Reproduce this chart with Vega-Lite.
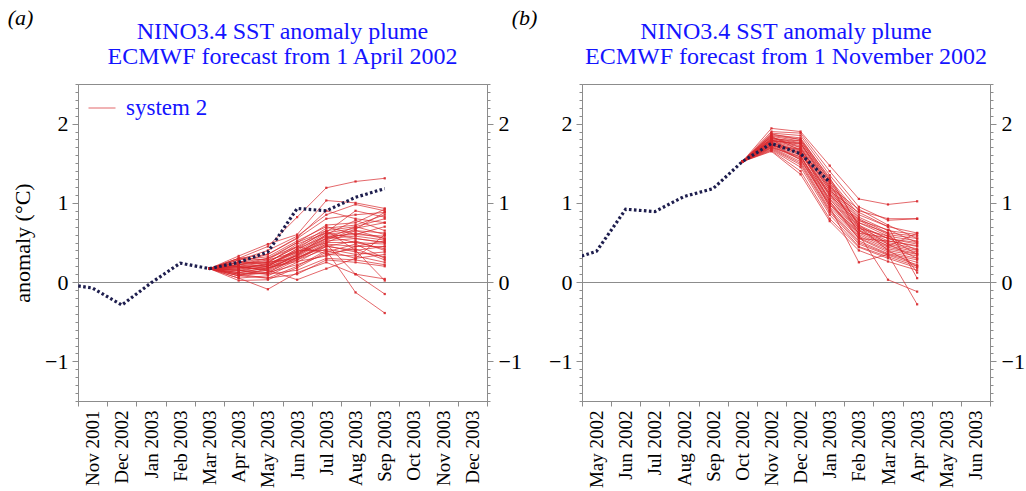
{
"$schema": "https://vega.github.io/schema/vega-lite/v6.json",
"padding": {"left": 6, "top": 5, "right": 5, "bottom": 0},
"bounds": "flush",
"spacing": 95,
"config": {
  "font": "Liberation Serif",
  "view": {"stroke": "#8c8c8c", "strokeWidth": 1},
  "axis": {"domainColor": "#8c8c8c", "tickColor": "#8c8c8c", "labelFont": "Liberation Serif", "titleFont": "Liberation Serif", "labelColor": "#000000", "titleColor": "#000000", "titleFontWeight": "normal", "labelOverlap": false, "labelBound": false, "labelFlush": false},
  "legend": {"labelFont": "Liberation Serif"}
},
"datasets": {
"obsA": [{"t":-1,"v":-0.02},{"t":0,"v":-0.075},{"t":1,"v":-0.29},{"t":2,"v":-0.01},{"t":3,"v":0.24},{"t":4,"v":0.17},{"t":5,"v":0.25},{"t":6,"v":0.38},{"t":7,"v":0.93},{"t":8,"v":0.9},{"t":9,"v":1.07},{"t":10,"v":1.18}],
"obsB": [{"t":-1,"v":0.27},{"t":0,"v":0.39},{"t":1,"v":0.92},{"t":2,"v":0.89},{"t":3,"v":1.08},{"t":4,"v":1.18},{"t":5,"v":1.52},{"t":6,"v":1.75},{"t":7,"v":1.62},{"t":8,"v":1.26}],
"ensA": [
{"k":1,"t":4,"v":0.17},{"k":1,"t":5,"v":0.30},{"k":1,"t":6,"v":0.45},{"k":1,"t":7,"v":0.82},{"k":1,"t":8,"v":1.19},{"k":1,"t":9,"v":1.27},{"k":1,"t":10,"v":1.31},
{"k":2,"t":4,"v":0.17},{"k":2,"t":5,"v":0.33},{"k":2,"t":6,"v":0.48},{"k":2,"t":7,"v":0.60},{"k":2,"t":8,"v":1.03},{"k":2,"t":9,"v":1.00},{"k":2,"t":10,"v":0.93},
{"k":3,"t":4,"v":0.17},{"k":3,"t":5,"v":0.28},{"k":3,"t":6,"v":0.40},{"k":3,"t":7,"v":0.58},{"k":3,"t":8,"v":0.85},{"k":3,"t":9,"v":0.98},{"k":3,"t":10,"v":0.90},
{"k":4,"t":4,"v":0.17},{"k":4,"t":5,"v":0.25},{"k":4,"t":6,"v":0.35},{"k":4,"t":7,"v":0.55},{"k":4,"t":8,"v":0.80},{"k":4,"t":9,"v":0.85},{"k":4,"t":10,"v":0.88},
{"k":5,"t":4,"v":0.17},{"k":5,"t":5,"v":0.22},{"k":5,"t":6,"v":0.30},{"k":5,"t":7,"v":0.50},{"k":5,"t":8,"v":0.72},{"k":5,"t":9,"v":0.75},{"k":5,"t":10,"v":0.92},
{"k":6,"t":4,"v":0.17},{"k":6,"t":5,"v":0.20},{"k":6,"t":6,"v":0.25},{"k":6,"t":7,"v":0.45},{"k":6,"t":8,"v":0.68},{"k":6,"t":9,"v":0.72},{"k":6,"t":10,"v":0.85},
{"k":7,"t":4,"v":0.17},{"k":7,"t":5,"v":0.18},{"k":7,"t":6,"v":0.22},{"k":7,"t":7,"v":0.42},{"k":7,"t":8,"v":0.65},{"k":7,"t":9,"v":0.70},{"k":7,"t":10,"v":0.80},
{"k":8,"t":4,"v":0.17},{"k":8,"t":5,"v":0.15},{"k":8,"t":6,"v":0.20},{"k":8,"t":7,"v":0.40},{"k":8,"t":8,"v":0.62},{"k":8,"t":9,"v":0.68},{"k":8,"t":10,"v":0.75},
{"k":9,"t":4,"v":0.17},{"k":9,"t":5,"v":0.30},{"k":9,"t":6,"v":0.28},{"k":9,"t":7,"v":0.38},{"k":9,"t":8,"v":0.60},{"k":9,"t":9,"v":0.65},{"k":9,"t":10,"v":0.62},
{"k":10,"t":4,"v":0.17},{"k":10,"t":5,"v":0.12},{"k":10,"t":6,"v":0.18},{"k":10,"t":7,"v":0.36},{"k":10,"t":8,"v":0.58},{"k":10,"t":9,"v":0.60},{"k":10,"t":10,"v":0.58},
{"k":11,"t":4,"v":0.17},{"k":11,"t":5,"v":0.10},{"k":11,"t":6,"v":0.15},{"k":11,"t":7,"v":0.35},{"k":11,"t":8,"v":0.56},{"k":11,"t":9,"v":0.62},{"k":11,"t":10,"v":0.55},
{"k":12,"t":4,"v":0.17},{"k":12,"t":5,"v":0.25},{"k":12,"t":6,"v":0.22},{"k":12,"t":7,"v":0.33},{"k":12,"t":8,"v":0.55},{"k":12,"t":9,"v":0.58},{"k":12,"t":10,"v":0.53},
{"k":13,"t":4,"v":0.17},{"k":13,"t":5,"v":0.08},{"k":13,"t":6,"v":0.12},{"k":13,"t":7,"v":0.32},{"k":13,"t":8,"v":0.52},{"k":13,"t":9,"v":0.55},{"k":13,"t":10,"v":0.50},
{"k":14,"t":4,"v":0.17},{"k":14,"t":5,"v":0.20},{"k":14,"t":6,"v":0.20},{"k":14,"t":7,"v":0.30},{"k":14,"t":8,"v":0.50},{"k":14,"t":9,"v":0.50},{"k":14,"t":10,"v":0.48},
{"k":15,"t":4,"v":0.17},{"k":15,"t":5,"v":0.15},{"k":15,"t":6,"v":0.10},{"k":15,"t":7,"v":0.28},{"k":15,"t":8,"v":0.48},{"k":15,"t":9,"v":0.45},{"k":15,"t":10,"v":0.52},
{"k":16,"t":4,"v":0.17},{"k":16,"t":5,"v":0.05},{"k":16,"t":6,"v":0.08},{"k":16,"t":7,"v":0.25},{"k":16,"t":8,"v":0.45},{"k":16,"t":9,"v":0.40},{"k":16,"t":10,"v":0.45},
{"k":17,"t":4,"v":0.17},{"k":17,"t":5,"v":0.22},{"k":17,"t":6,"v":0.25},{"k":17,"t":7,"v":0.30},{"k":17,"t":8,"v":0.45},{"k":17,"t":9,"v":0.52},{"k":17,"t":10,"v":0.40},
{"k":18,"t":4,"v":0.17},{"k":18,"t":5,"v":0.18},{"k":18,"t":6,"v":0.18},{"k":18,"t":7,"v":0.28},{"k":18,"t":8,"v":0.42},{"k":18,"t":9,"v":0.35},{"k":18,"t":10,"v":0.38},
{"k":19,"t":4,"v":0.17},{"k":19,"t":5,"v":0.10},{"k":19,"t":6,"v":0.05},{"k":19,"t":7,"v":0.20},{"k":19,"t":8,"v":0.40},{"k":19,"t":9,"v":0.30},{"k":19,"t":10,"v":0.35},
{"k":20,"t":4,"v":0.17},{"k":20,"t":5,"v":0.02},{"k":20,"t":6,"v":0.03},{"k":20,"t":7,"v":0.18},{"k":20,"t":8,"v":0.38},{"k":20,"t":9,"v":0.48},{"k":20,"t":10,"v":0.30},
{"k":21,"t":4,"v":0.17},{"k":21,"t":5,"v":0.25},{"k":21,"t":6,"v":0.30},{"k":21,"t":7,"v":0.45},{"k":21,"t":8,"v":0.36},{"k":21,"t":9,"v":0.42},{"k":21,"t":10,"v":0.28},
{"k":22,"t":4,"v":0.17},{"k":22,"t":5,"v":0.15},{"k":22,"t":6,"v":0.12},{"k":22,"t":7,"v":0.22},{"k":22,"t":8,"v":0.35},{"k":22,"t":9,"v":0.33},{"k":22,"t":10,"v":0.25},
{"k":23,"t":4,"v":0.17},{"k":23,"t":5,"v":0.12},{"k":23,"t":6,"v":0.10},{"k":23,"t":7,"v":0.15},{"k":23,"t":8,"v":0.30},{"k":23,"t":9,"v":0.28},{"k":23,"t":10,"v":0.22},
{"k":24,"t":4,"v":0.17},{"k":24,"t":5,"v":0.08},{"k":24,"t":6,"v":0.05},{"k":24,"t":7,"v":0.10},{"k":24,"t":8,"v":0.28},{"k":24,"t":9,"v":0.25},{"k":24,"t":10,"v":0.20},
{"k":25,"t":4,"v":0.17},{"k":25,"t":5,"v":0.20},{"k":25,"t":6,"v":0.15},{"k":25,"t":7,"v":0.03},{"k":25,"t":8,"v":0.17},{"k":25,"t":9,"v":0.30},{"k":25,"t":10,"v":0.60},
{"k":26,"t":4,"v":0.17},{"k":26,"t":5,"v":0.05},{"k":26,"t":6,"v":-0.09},{"k":26,"t":7,"v":0.12},{"k":26,"t":8,"v":0.25},{"k":26,"t":9,"v":0.10},{"k":26,"t":10,"v":0.04},
{"k":27,"t":4,"v":0.17},{"k":27,"t":5,"v":0.18},{"k":27,"t":6,"v":0.22},{"k":27,"t":7,"v":0.40},{"k":27,"t":8,"v":0.40},{"k":27,"t":9,"v":-0.13},{"k":27,"t":10,"v":-0.39},
{"k":28,"t":4,"v":0.17},{"k":28,"t":5,"v":0.10},{"k":28,"t":6,"v":0.12},{"k":28,"t":7,"v":0.30},{"k":28,"t":8,"v":0.48},{"k":28,"t":9,"v":0.10},{"k":28,"t":10,"v":-0.15},
{"k":29,"t":4,"v":0.17},{"k":29,"t":5,"v":0.22},{"k":29,"t":6,"v":0.28},{"k":29,"t":7,"v":0.50},{"k":29,"t":8,"v":0.65},{"k":29,"t":9,"v":0.40},{"k":29,"t":10,"v":0.02},
{"k":30,"t":4,"v":0.17},{"k":30,"t":5,"v":0.28},{"k":30,"t":6,"v":0.32},{"k":30,"t":7,"v":0.52},{"k":30,"t":8,"v":0.70},{"k":30,"t":9,"v":0.60},{"k":30,"t":10,"v":0.70},
{"k":31,"t":4,"v":0.17},{"k":31,"t":5,"v":0.30},{"k":31,"t":6,"v":0.35},{"k":31,"t":7,"v":0.56},{"k":31,"t":8,"v":0.90},{"k":31,"t":9,"v":0.80},{"k":31,"t":10,"v":0.75},
{"k":32,"t":4,"v":0.17},{"k":32,"t":5,"v":0.14},{"k":32,"t":6,"v":0.20},{"k":32,"t":7,"v":0.38},{"k":32,"t":8,"v":0.55},{"k":32,"t":9,"v":0.70},{"k":32,"t":10,"v":0.60},
{"k":33,"t":4,"v":0.17},{"k":33,"t":5,"v":0.18},{"k":33,"t":6,"v":0.16},{"k":33,"t":7,"v":0.34},{"k":33,"t":8,"v":0.60},{"k":33,"t":9,"v":0.78},{"k":33,"t":10,"v":0.65},
{"k":34,"t":4,"v":0.17},{"k":34,"t":5,"v":0.24},{"k":34,"t":6,"v":0.26},{"k":34,"t":7,"v":0.44},{"k":34,"t":8,"v":0.63},{"k":34,"t":9,"v":0.90},{"k":34,"t":10,"v":0.82},
{"k":35,"t":4,"v":0.17},{"k":35,"t":5,"v":0.16},{"k":35,"t":6,"v":0.24},{"k":35,"t":7,"v":0.37},{"k":35,"t":8,"v":0.50},{"k":35,"t":9,"v":0.65},{"k":35,"t":10,"v":0.55},
{"k":36,"t":4,"v":0.17},{"k":36,"t":5,"v":0.12},{"k":36,"t":6,"v":0.18},{"k":36,"t":7,"v":0.26},{"k":36,"t":8,"v":0.33},{"k":36,"t":9,"v":0.45},{"k":36,"t":10,"v":0.45},
{"k":37,"t":4,"v":0.17},{"k":37,"t":5,"v":0.26},{"k":37,"t":6,"v":0.24},{"k":37,"t":7,"v":0.48},{"k":37,"t":8,"v":0.62},{"k":37,"t":9,"v":0.55},{"k":37,"t":10,"v":0.50},
{"k":38,"t":4,"v":0.17},{"k":38,"t":5,"v":0.20},{"k":38,"t":6,"v":0.14},{"k":38,"t":7,"v":0.31},{"k":38,"t":8,"v":0.46},{"k":38,"t":9,"v":0.38},{"k":38,"t":10,"v":0.32},
{"k":39,"t":4,"v":0.17},{"k":39,"t":5,"v":0.08},{"k":39,"t":6,"v":0.17},{"k":39,"t":7,"v":0.34},{"k":39,"t":8,"v":0.53},{"k":39,"t":9,"v":0.67},{"k":39,"t":10,"v":0.88},
{"k":40,"t":4,"v":0.17},{"k":40,"t":5,"v":0.22},{"k":40,"t":6,"v":0.20},{"k":40,"t":7,"v":0.42},{"k":40,"t":8,"v":0.58},{"k":40,"t":9,"v":0.50},{"k":40,"t":10,"v":0.42}
],
"ensB": [
{"k":1,"t":5,"v":1.52},{"k":1,"t":6,"v":1.94},{"k":1,"t":7,"v":1.90},{"k":1,"t":8,"v":1.47},{"k":1,"t":9,"v":1.05},{"k":1,"t":10,"v":0.98},{"k":1,"t":11,"v":1.02},
{"k":2,"t":5,"v":1.52},{"k":2,"t":6,"v":1.90},{"k":2,"t":7,"v":1.88},{"k":2,"t":8,"v":1.40},{"k":2,"t":9,"v":0.95},{"k":2,"t":10,"v":0.78},{"k":2,"t":11,"v":0.80},
{"k":3,"t":5,"v":1.52},{"k":3,"t":6,"v":1.88},{"k":3,"t":7,"v":1.85},{"k":3,"t":8,"v":1.35},{"k":3,"t":9,"v":0.90},{"k":3,"t":10,"v":0.80},{"k":3,"t":11,"v":0.80},
{"k":4,"t":5,"v":1.52},{"k":4,"t":6,"v":1.86},{"k":4,"t":7,"v":1.82},{"k":4,"t":8,"v":1.30},{"k":4,"t":9,"v":0.85},{"k":4,"t":10,"v":0.70},{"k":4,"t":11,"v":0.62},
{"k":5,"t":5,"v":1.52},{"k":5,"t":6,"v":1.85},{"k":5,"t":7,"v":1.80},{"k":5,"t":8,"v":1.28},{"k":5,"t":9,"v":0.82},{"k":5,"t":10,"v":0.65},{"k":5,"t":11,"v":0.60},
{"k":6,"t":5,"v":1.52},{"k":6,"t":6,"v":1.84},{"k":6,"t":7,"v":1.78},{"k":6,"t":8,"v":1.25},{"k":6,"t":9,"v":0.80},{"k":6,"t":10,"v":0.62},{"k":6,"t":11,"v":0.58},
{"k":7,"t":5,"v":1.52},{"k":7,"t":6,"v":1.82},{"k":7,"t":7,"v":1.76},{"k":7,"t":8,"v":1.22},{"k":7,"t":9,"v":0.78},{"k":7,"t":10,"v":0.60},{"k":7,"t":11,"v":0.55},
{"k":8,"t":5,"v":1.52},{"k":8,"t":6,"v":1.81},{"k":8,"t":7,"v":1.75},{"k":8,"t":8,"v":1.20},{"k":8,"t":9,"v":0.75},{"k":8,"t":10,"v":0.58},{"k":8,"t":11,"v":0.52},
{"k":9,"t":5,"v":1.52},{"k":9,"t":6,"v":1.80},{"k":9,"t":7,"v":1.72},{"k":9,"t":8,"v":1.18},{"k":9,"t":9,"v":0.72},{"k":9,"t":10,"v":0.55},{"k":9,"t":11,"v":0.50},
{"k":10,"t":5,"v":1.52},{"k":10,"t":6,"v":1.79},{"k":10,"t":7,"v":1.70},{"k":10,"t":8,"v":1.15},{"k":10,"t":9,"v":0.70},{"k":10,"t":10,"v":0.55},{"k":10,"t":11,"v":0.48},
{"k":11,"t":5,"v":1.52},{"k":11,"t":6,"v":1.78},{"k":11,"t":7,"v":1.68},{"k":11,"t":8,"v":1.12},{"k":11,"t":9,"v":0.68},{"k":11,"t":10,"v":0.52},{"k":11,"t":11,"v":0.45},
{"k":12,"t":5,"v":1.52},{"k":12,"t":6,"v":1.77},{"k":12,"t":7,"v":1.66},{"k":12,"t":8,"v":1.10},{"k":12,"t":9,"v":0.66},{"k":12,"t":10,"v":0.50},{"k":12,"t":11,"v":0.42},
{"k":13,"t":5,"v":1.52},{"k":13,"t":6,"v":1.76},{"k":13,"t":7,"v":1.65},{"k":13,"t":8,"v":1.08},{"k":13,"t":9,"v":0.65},{"k":13,"t":10,"v":0.48},{"k":13,"t":11,"v":0.40},
{"k":14,"t":5,"v":1.52},{"k":14,"t":6,"v":1.75},{"k":14,"t":7,"v":1.63},{"k":14,"t":8,"v":1.05},{"k":14,"t":9,"v":0.62},{"k":14,"t":10,"v":0.46},{"k":14,"t":11,"v":0.38},
{"k":15,"t":5,"v":1.52},{"k":15,"t":6,"v":1.74},{"k":15,"t":7,"v":1.60},{"k":15,"t":8,"v":1.02},{"k":15,"t":9,"v":0.60},{"k":15,"t":10,"v":0.44},{"k":15,"t":11,"v":0.36},
{"k":16,"t":5,"v":1.52},{"k":16,"t":6,"v":1.73},{"k":16,"t":7,"v":1.58},{"k":16,"t":8,"v":1.00},{"k":16,"t":9,"v":0.58},{"k":16,"t":10,"v":0.42},{"k":16,"t":11,"v":0.35},
{"k":17,"t":5,"v":1.52},{"k":17,"t":6,"v":1.72},{"k":17,"t":7,"v":1.56},{"k":17,"t":8,"v":0.98},{"k":17,"t":9,"v":0.56},{"k":17,"t":10,"v":0.40},{"k":17,"t":11,"v":0.33},
{"k":18,"t":5,"v":1.52},{"k":18,"t":6,"v":1.71},{"k":18,"t":7,"v":1.55},{"k":18,"t":8,"v":0.95},{"k":18,"t":9,"v":0.55},{"k":18,"t":10,"v":0.38},{"k":18,"t":11,"v":0.30},
{"k":19,"t":5,"v":1.52},{"k":19,"t":6,"v":1.70},{"k":19,"t":7,"v":1.52},{"k":19,"t":8,"v":0.92},{"k":19,"t":9,"v":0.52},{"k":19,"t":10,"v":0.36},{"k":19,"t":11,"v":0.28},
{"k":20,"t":5,"v":1.52},{"k":20,"t":6,"v":1.69},{"k":20,"t":7,"v":1.50},{"k":20,"t":8,"v":0.90},{"k":20,"t":9,"v":0.50},{"k":20,"t":10,"v":0.35},{"k":20,"t":11,"v":0.25},
{"k":21,"t":5,"v":1.52},{"k":21,"t":6,"v":1.68},{"k":21,"t":7,"v":1.48},{"k":21,"t":8,"v":0.88},{"k":21,"t":9,"v":0.48},{"k":21,"t":10,"v":0.34},{"k":21,"t":11,"v":0.22},
{"k":22,"t":5,"v":1.52},{"k":22,"t":6,"v":1.67},{"k":22,"t":7,"v":1.45},{"k":22,"t":8,"v":0.85},{"k":22,"t":9,"v":0.45},{"k":22,"t":10,"v":0.32},{"k":22,"t":11,"v":0.20},
{"k":23,"t":5,"v":1.52},{"k":23,"t":6,"v":1.66},{"k":23,"t":7,"v":1.40},{"k":23,"t":8,"v":0.80},{"k":23,"t":9,"v":0.44},{"k":23,"t":10,"v":0.30},{"k":23,"t":11,"v":0.18},
{"k":24,"t":5,"v":1.52},{"k":24,"t":6,"v":1.65},{"k":24,"t":7,"v":1.36},{"k":24,"t":8,"v":0.77},{"k":24,"t":9,"v":0.40},{"k":24,"t":10,"v":0.26},{"k":24,"t":11,"v":0.15},
{"k":25,"t":5,"v":1.52},{"k":25,"t":6,"v":1.78},{"k":25,"t":7,"v":1.75},{"k":25,"t":8,"v":1.25},{"k":25,"t":9,"v":0.60},{"k":25,"t":10,"v":0.03},{"k":25,"t":11,"v":-0.12},
{"k":26,"t":5,"v":1.52},{"k":26,"t":6,"v":1.80},{"k":26,"t":7,"v":1.60},{"k":26,"t":8,"v":0.95},{"k":26,"t":9,"v":0.25},{"k":26,"t":10,"v":0.35},{"k":26,"t":11,"v":-0.28},
{"k":27,"t":5,"v":1.52},{"k":27,"t":6,"v":1.83},{"k":27,"t":7,"v":1.70},{"k":27,"t":8,"v":1.15},{"k":27,"t":9,"v":0.88},{"k":27,"t":10,"v":0.70},{"k":27,"t":11,"v":0.05},
{"k":28,"t":5,"v":1.52},{"k":28,"t":6,"v":1.76},{"k":28,"t":7,"v":1.62},{"k":28,"t":8,"v":1.10},{"k":28,"t":9,"v":0.75},{"k":28,"t":10,"v":0.62},{"k":28,"t":11,"v":0.12},
{"k":29,"t":5,"v":1.52},{"k":29,"t":6,"v":1.87},{"k":29,"t":7,"v":1.80},{"k":29,"t":8,"v":1.32},{"k":29,"t":9,"v":0.70},{"k":29,"t":10,"v":0.40},{"k":29,"t":11,"v":0.20},
{"k":30,"t":5,"v":1.52},{"k":30,"t":6,"v":1.72},{"k":30,"t":7,"v":1.68},{"k":30,"t":8,"v":1.18},{"k":30,"t":9,"v":0.68},{"k":30,"t":10,"v":0.58},{"k":30,"t":11,"v":0.40},
{"k":31,"t":5,"v":1.52},{"k":31,"t":6,"v":1.79},{"k":31,"t":7,"v":1.74},{"k":31,"t":8,"v":1.20},{"k":31,"t":9,"v":0.92},{"k":31,"t":10,"v":0.72},{"k":31,"t":11,"v":0.55},
{"k":32,"t":5,"v":1.52},{"k":32,"t":6,"v":1.70},{"k":32,"t":7,"v":1.58},{"k":32,"t":8,"v":1.05},{"k":32,"t":9,"v":0.65},{"k":32,"t":10,"v":0.45},{"k":32,"t":11,"v":0.62},
{"k":33,"t":5,"v":1.52},{"k":33,"t":6,"v":1.84},{"k":33,"t":7,"v":1.66},{"k":33,"t":8,"v":1.02},{"k":33,"t":9,"v":0.55},{"k":33,"t":10,"v":0.52},{"k":33,"t":11,"v":0.46},
{"k":34,"t":5,"v":1.52},{"k":34,"t":6,"v":1.73},{"k":34,"t":7,"v":1.64},{"k":34,"t":8,"v":1.12},{"k":34,"t":9,"v":0.78},{"k":34,"t":10,"v":0.66},{"k":34,"t":11,"v":0.50},
{"k":35,"t":5,"v":1.52},{"k":35,"t":6,"v":1.81},{"k":35,"t":7,"v":1.78},{"k":35,"t":8,"v":1.28},{"k":35,"t":9,"v":0.72},{"k":35,"t":10,"v":0.48},{"k":35,"t":11,"v":0.30},
{"k":36,"t":5,"v":1.52},{"k":36,"t":6,"v":1.75},{"k":36,"t":7,"v":1.54},{"k":36,"t":8,"v":0.98},{"k":36,"t":9,"v":0.62},{"k":36,"t":10,"v":0.56},{"k":36,"t":11,"v":0.35}
]
},
"hconcat": [
{
  "width": 409, "height": 317,
  "title": {"text": ["NINO3.4 SST anomaly plume", "ECMWF forecast from 1 April 2002"], "color": "#1414ff", "font": "Liberation Serif", "fontSize": 24, "fontWeight": "normal", "lineHeight": 25, "offset": -63, "anchor": "middle"},
  "layer": [
    {
      "data": {"name": "ensA"},
      "mark": {"type": "line", "strokeWidth": 1, "opacity": 0.7, "point": {"shape": "square", "size": 5, "filled": true, "opacity": 0.9}},
      "encoding": {
        "x": {"field": "t", "type": "quantitative", "scale": {"domain": [-0.5, 13.5], "nice": false, "zero": false},
          "axis": {"values": [-0.5,0.5,1.5,2.5,3.5,4.5,5.5,6.5,7.5,8.5,9.5,10.5,11.5,12.5,13.5],
            "labelExpr": "['Nov 2001','Dec 2002','Jan 2003','Feb 2003','Mar 2003','Apr 2003','May 2003','Jun 2003','Jul 2003','Aug 2003','Sep 2003','Oct 2003','Nov 2003','Dec 2003',''][round(datum.value+0.5)]",
            "labelAngle": -90, "labelOffset": 14.6, "labelFontSize": 19, "labelPadding": 4, "tickSize": 5, "grid": false,
            "labelOverlap": false, "labelFlush": false, "labelBound": false,
            "title": "(a)", "titleX": -58, "titleY": -384, "titleAngle": 0, "titleAlign": "center", "titleBaseline": "middle", "titleFontSize": 22, "titleFontStyle": "italic"}},
        "y": {"field": "v", "type": "quantitative", "scale": {"domain": [-1.5, 2.5], "nice": false, "zero": false},
          "axis": {"orient": "left", "values": [-1.5,-1.4,-1.3,-1.2,-1.1,-1,-0.9,-0.8,-0.7,-0.6,-0.5,-0.4,-0.3,-0.2,-0.1,0,0.1,0.2,0.3,0.4,0.5,0.6,0.7,0.8,0.9,1,1.1,1.2,1.3,1.4,1.5,1.6,1.7,1.8,1.9,2,2.1,2.2,2.3,2.4,2.5],
            "labelExpr": "abs(datum.value - round(datum.value)) < 0.01 ? (round(datum.value) < 0 ? '\u2212' + abs(round(datum.value)) : '' + round(datum.value)) : ''",
            "labelFontSize": 22, "labelPadding": 4, "labelOverlap": false, "labelBound": false, "labelFlush": false, "labelBaseline": "middle",
            "tickSize": {"condition": {"test": "abs(datum.value - round(datum.value)) < 0.01", "value": 6}, "value": 3},
            "grid": true, "gridColor": "#8c8c8c", "gridWidth": 1,
            "gridOpacity": {"condition": {"test": "datum.value === 0", "value": 1}, "value": 0},
            "title": "anomaly (\u00b0C)", "titleFontSize": 22, "titlePadding": 10}},
        "detail": {"field": "k", "type": "nominal"},
        "color": {"datum": "system 2", "type": "nominal", "scale": {"range": ["#d8282c"]},
          "legend": {"title": null, "orient": "top-left", "offset": 10, "padding": 0, "symbolType": "stroke", "symbolSize": 729, "symbolStrokeWidth": 1, "symbolOpacity": 0.7, "labelFontSize": 23, "labelColor": "#1414ff", "labelOffset": 10}}
      }
    },
    {
      "data": {"name": "obsA"},
      "mark": {"type": "line", "clip": true, "color": "#1e1e4e", "strokeWidth": 3.2, "strokeDash": [2.6, 2.4], "strokeCap": "butt"},
      "encoding": {
        "x": {"field": "t", "type": "quantitative",
          "axis": {"values": [-0.5,0.5,1.5,2.5,3.5,4.5,5.5,6.5,7.5,8.5,9.5,10.5,11.5,12.5,13.5],
            "labelExpr": "['Nov 2001','Dec 2002','Jan 2003','Feb 2003','Mar 2003','Apr 2003','May 2003','Jun 2003','Jul 2003','Aug 2003','Sep 2003','Oct 2003','Nov 2003','Dec 2003',''][round(datum.value+0.5)]",
            "labelAngle": -90, "labelOffset": 14.6, "labelFontSize": 19, "labelPadding": 4, "tickSize": 5, "grid": false,
            "labelOverlap": false, "labelFlush": false, "labelBound": false,
            "title": "(a)", "titleX": -58, "titleY": -384, "titleAngle": 0, "titleAlign": "center", "titleBaseline": "middle", "titleFontSize": 22, "titleFontStyle": "italic"}},
        "y": {"field": "v", "type": "quantitative",
          "axis": {"orient": "right", "values": [-1.5,-1.4,-1.3,-1.2,-1.1,-1,-0.9,-0.8,-0.7,-0.6,-0.5,-0.4,-0.3,-0.2,-0.1,0,0.1,0.2,0.3,0.4,0.5,0.6,0.7,0.8,0.9,1,1.1,1.2,1.3,1.4,1.5,1.6,1.7,1.8,1.9,2,2.1,2.2,2.3,2.4,2.5],
            "labelExpr": "abs(datum.value - round(datum.value)) < 0.01 ? (round(datum.value) < 0 ? '\u2212' + abs(round(datum.value)) : '' + round(datum.value)) : ''",
            "labelFontSize": 22, "labelPadding": 5, "labelOverlap": false, "labelBound": false, "labelFlush": false, "labelBaseline": "middle",
            "tickSize": {"condition": {"test": "abs(datum.value - round(datum.value)) < 0.01", "value": 6}, "value": 3},
            "grid": false, "title": null}}
      }
    }
  ],
  "resolve": {"axis": {"y": "independent"}}
},
{
  "width": 408, "height": 317,
  "title": {"text": ["NINO3.4 SST anomaly plume", "ECMWF forecast from 1 November 2002"], "color": "#1414ff", "font": "Liberation Serif", "fontSize": 24, "fontWeight": "normal", "lineHeight": 25, "offset": -63, "anchor": "middle"},
  "layer": [
    {
      "data": {"name": "ensB"},
      "mark": {"type": "line", "strokeWidth": 1, "opacity": 0.7, "point": {"shape": "square", "size": 5, "filled": true, "opacity": 0.9}},
      "encoding": {
        "x": {"field": "t", "type": "quantitative", "scale": {"domain": [-0.5, 13.5], "nice": false, "zero": false},
          "axis": {"values": [-0.5,0.5,1.5,2.5,3.5,4.5,5.5,6.5,7.5,8.5,9.5,10.5,11.5,12.5,13.5],
            "labelExpr": "['May 2002','Jun 2002','Jul 2002','Aug 2002','Sep 2002','Oct 2002','Nov 2002','Dec 2002','Jan 2003','Feb 2003','Mar 2003','Apr 2003','May 2003','Jun 2003',''][round(datum.value+0.5)]",
            "labelAngle": -90, "labelOffset": 14.6, "labelFontSize": 19, "labelPadding": 4, "tickSize": 5, "grid": false,
            "labelOverlap": false, "labelFlush": false, "labelBound": false,
            "title": "(b)", "titleX": -58, "titleY": -384, "titleAngle": 0, "titleAlign": "center", "titleBaseline": "middle", "titleFontSize": 22, "titleFontStyle": "italic"}},
        "y": {"field": "v", "type": "quantitative", "scale": {"domain": [-1.5, 2.5], "nice": false, "zero": false},
          "axis": {"orient": "left", "values": [-1.5,-1.4,-1.3,-1.2,-1.1,-1,-0.9,-0.8,-0.7,-0.6,-0.5,-0.4,-0.3,-0.2,-0.1,0,0.1,0.2,0.3,0.4,0.5,0.6,0.7,0.8,0.9,1,1.1,1.2,1.3,1.4,1.5,1.6,1.7,1.8,1.9,2,2.1,2.2,2.3,2.4,2.5],
            "labelExpr": "abs(datum.value - round(datum.value)) < 0.01 ? (round(datum.value) < 0 ? '\u2212' + abs(round(datum.value)) : '' + round(datum.value)) : ''",
            "labelFontSize": 22, "labelPadding": 4, "labelOverlap": false, "labelBound": false, "labelFlush": false, "labelBaseline": "middle",
            "tickSize": {"condition": {"test": "abs(datum.value - round(datum.value)) < 0.01", "value": 6}, "value": 3},
            "grid": true, "gridColor": "#8c8c8c", "gridWidth": 1,
            "gridOpacity": {"condition": {"test": "datum.value === 0", "value": 1}, "value": 0},
            "title": null}},
        "detail": {"field": "k", "type": "nominal"},
        "color": {"datum": "system 2", "type": "nominal", "scale": {"range": ["#d8282c"]},
          "legend": {"title": null, "orient": "top-left", "offset": 10, "padding": 0, "symbolType": "stroke", "symbolSize": 729, "symbolStrokeWidth": 1, "symbolOpacity": 0.7, "labelFontSize": 23, "labelColor": "#1414ff", "labelOffset": 10}}
      }
    },
    {
      "data": {"name": "obsB"},
      "mark": {"type": "line", "clip": true, "color": "#1e1e4e", "strokeWidth": 3.2, "strokeDash": [2.6, 2.4], "strokeCap": "butt"},
      "encoding": {
        "x": {"field": "t", "type": "quantitative",
          "axis": {"values": [-0.5,0.5,1.5,2.5,3.5,4.5,5.5,6.5,7.5,8.5,9.5,10.5,11.5,12.5,13.5],
            "labelExpr": "['May 2002','Jun 2002','Jul 2002','Aug 2002','Sep 2002','Oct 2002','Nov 2002','Dec 2002','Jan 2003','Feb 2003','Mar 2003','Apr 2003','May 2003','Jun 2003',''][round(datum.value+0.5)]",
            "labelAngle": -90, "labelOffset": 14.6, "labelFontSize": 19, "labelPadding": 4, "tickSize": 5, "grid": false,
            "labelOverlap": false, "labelFlush": false, "labelBound": false,
            "title": "(b)", "titleX": -58, "titleY": -384, "titleAngle": 0, "titleAlign": "center", "titleBaseline": "middle", "titleFontSize": 22, "titleFontStyle": "italic"}},
        "y": {"field": "v", "type": "quantitative",
          "axis": {"orient": "right", "values": [-1.5,-1.4,-1.3,-1.2,-1.1,-1,-0.9,-0.8,-0.7,-0.6,-0.5,-0.4,-0.3,-0.2,-0.1,0,0.1,0.2,0.3,0.4,0.5,0.6,0.7,0.8,0.9,1,1.1,1.2,1.3,1.4,1.5,1.6,1.7,1.8,1.9,2,2.1,2.2,2.3,2.4,2.5],
            "labelExpr": "abs(datum.value - round(datum.value)) < 0.01 ? (round(datum.value) < 0 ? '\u2212' + abs(round(datum.value)) : '' + round(datum.value)) : ''",
            "labelFontSize": 22, "labelPadding": 5, "labelOverlap": false, "labelBound": false, "labelFlush": false, "labelBaseline": "middle",
            "tickSize": {"condition": {"test": "abs(datum.value - round(datum.value)) < 0.01", "value": 6}, "value": 3},
            "grid": false, "title": null}}
      }
    }
  ],
  "resolve": {"axis": {"y": "independent"}}
}
]
}
